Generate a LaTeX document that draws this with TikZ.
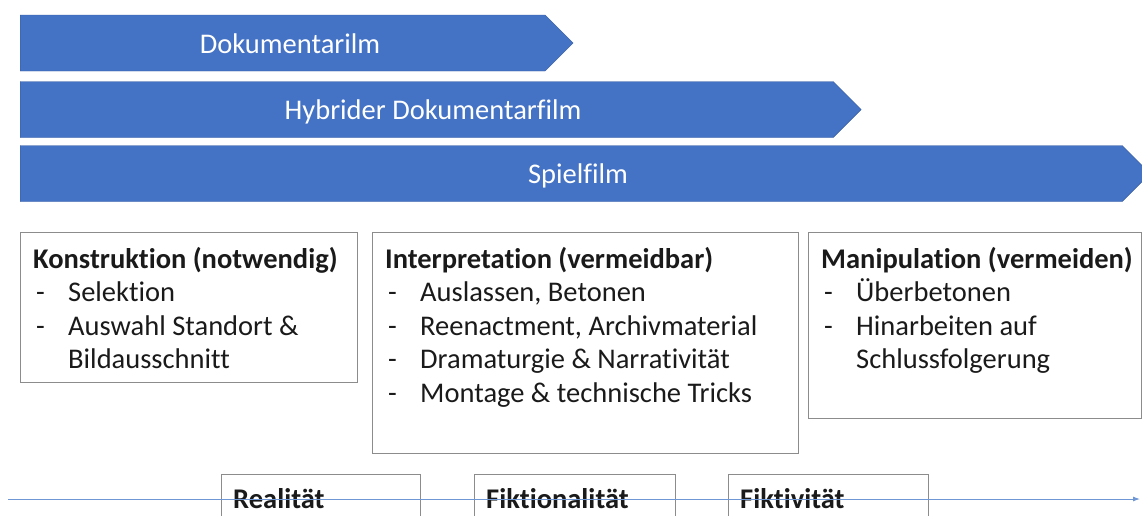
\documentclass[tikz,border=0pt]{standalone}
\usepackage{fontspec}
\setmainfont{Carlito}[Ligatures={NoCommon}]
\usetikzlibrary{shapes.symbols,arrows.meta,calc}

\definecolor{filmblue}{HTML}{4472C4}
\definecolor{lineblue}{HTML}{6F97D6}
\definecolor{boxgray}{HTML}{8C8C8C}
\definecolor{txt}{HTML}{1A1A1A}

\newcommand{\dashitem}[1]{\makebox[35pt][l]{\hspace{3pt}-}#1}
\newcommand{\dashcont}[1]{\hspace*{35pt}#1}

\tikzset{
  filmarrow/.style={signal, signal to=east, signal pointer angle=90, fill=filmblue,
    draw=filmblue!80!black, line width=0.4pt, minimum height=56, inner sep=0pt},
  filmtext/.style={text=white, inner sep=0pt, font=\fontsize{28.5}{33}\selectfont},
  infobox/.style={rectangle, draw=boxgray, line width=1pt, inner sep=0pt},
  boxtext/.style={anchor=north west, align=left, inner sep=0pt, text=txt,
    font=\fontsize{28.5}{33.5}\selectfont},
  scaletext/.style={anchor=west, inner sep=0pt, text=txt, font=\fontsize{28.5}{33}\selectfont\bfseries}
}

\begin{document}
\begin{tikzpicture}[x=1pt, y=-1pt]
\useasboundingbox (0,0) rectangle (1142,515);
\clip (0,0) rectangle (1142,515);

% film types
\node[filmarrow, minimum width=553, anchor=west] (doku) at (20,43) {};
\node[filmtext] (dokuT) at (290,44) {Dokumentarilm};
\node[filmarrow, minimum width=841, anchor=west] (hybrid) at (20,109.5) {};
\node[filmtext] (hybridT) at (433,112) {Hybrider Dokumentarfilm};
\node[filmarrow, minimum width=1130, anchor=west] (spiel) at (20,173.5) {};
\node[filmtext] (spielT) at (578,176) {Spielfilm};

% boxes
\node[infobox, minimum width=337, minimum height=150, anchor=north west] (kons) at (20,232) {};
\node[boxtext] (konsT) at ($(kons.north west)+(13,15)$) {\textbf{Konstruktion (notwendig)}\\
  \dashitem{Selektion}\\
  \dashitem{Auswahl Standort \&}\\
  \dashcont{Bildausschnitt}};

\node[infobox, minimum width=426, minimum height=221, anchor=north west] (interp) at (372,232) {};
\node[boxtext] (interpT) at ($(interp.north west)+(13,15)$) {\textbf{Interpretation (vermeidbar)}\\
  \dashitem{Auslassen, Betonen}\\
  \dashitem{Reenactment, Archivmaterial}\\
  \dashitem{Dramaturgie \& Narrativität}\\
  \dashitem{Montage \& technische Tricks}};

\node[infobox, minimum width=333, minimum height=186, anchor=north west] (manip) at (808,232) {};
\node[boxtext] (manipT) at ($(manip.north west)+(13,15)$) {\textbf{Manipulation (vermeiden)}\\
  \dashitem{Überbetonen}\\
  \dashitem{Hinarbeiten auf}\\
  \dashcont{Schlussfolgerung}};

% scale
\node[infobox, minimum width=199, minimum height=60, anchor=north west] (real) at (221,474) {};
\node[infobox, minimum width=201, minimum height=60, anchor=north west] (fiktion) at (474,474) {};
\node[infobox, minimum width=200, minimum height=60, anchor=north west] (fiktiv) at (728,474) {};
\node[scaletext] (realT) at ($(real.north west)+(12,25)$) {Realität};
\node[scaletext] (fiktionT) at ($(fiktion.north west)+(12,25)$) {Fiktionalität};
\node[scaletext] (fiktivT) at ($(fiktiv.north west)+(12,25)$) {Fiktivität};

\coordinate (s0) at (8,499);
\coordinate (s1) at (1140,499);
\draw[lineblue, line width=1pt, -{Latex[length=7pt,width=5pt]}] (s0) -- (s1);
\end{tikzpicture}
\end{document}
